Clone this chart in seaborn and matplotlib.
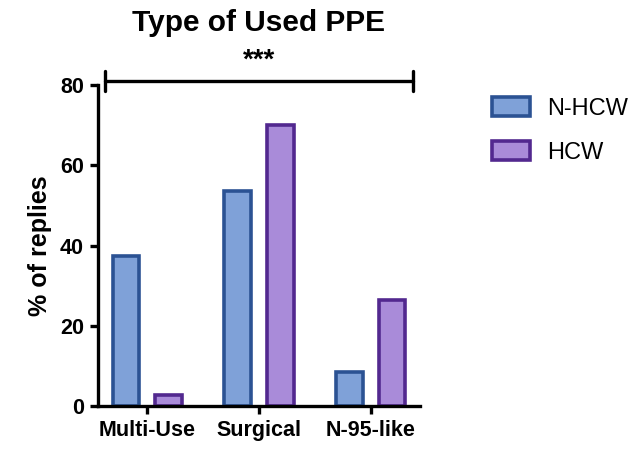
import pandas as pd
import seaborn as sns
from matplotlib import pyplot as plt

# values (% of replies)
categories = ["Multi-Use", "Surgical", "N-95-like"]
groups = ["N-HCW", "HCW"]
nhcw_values = [37.4, 53.6, 8.4]
hcw_values = [2.7, 70.0, 26.3]

face_colors = {"N-HCW": "#7fa1d8", "HCW": "#a98bd9"}
edge_colors = {"N-HCW": "#2b5293", "HCW": "#52288f"}


def makeplot():
    df = pd.DataFrame({
        "type": categories * 2,
        "group": ["N-HCW"] * 3 + ["HCW"] * 3,
        "value": nhcw_values + hcw_values,
    })

    sns.set_style("ticks")
    plt.rcParams["font.family"] = ["Liberation Sans", "DejaVu Sans"]
    plt.rcParams["text.color"] = "black"
    plt.rcParams["axes.labelcolor"] = "black"

    fig = plt.figure(figsize=(6.38, 4.51), dpi=100)
    ax = fig.add_axes([0.1536, 0.0998, 0.5047, 0.7117])

    sns.barplot(data=df, x="type", y="value", hue="group", order=categories,
                hue_order=groups, palette=face_colors, saturation=1,
                width=0.76, gap=0.37, linewidth=2.6, legend=False, ax=ax)
    for cont, g in zip(ax.containers, groups):
        for bar in cont:
            bar.set_edgecolor(edge_colors[g])
            bar.set_linewidth(2.6)

    ax.set_xlim(-0.44, 2.44)
    ax.set_ylim(0, 80)
    ax.set_yticks([0, 20, 40, 60, 80])
    sns.despine(ax=ax)
    for side in ["left", "bottom"]:
        ax.spines[side].set_linewidth(2.4)
        ax.spines[side].set_color("black")
    ax.tick_params(width=2.4, length=6, colors="black", labelsize=15.5, pad=4)
    for lab in ax.get_xticklabels() + ax.get_yticklabels():
        lab.set_fontweight("bold")
    ax.set_xlabel("")
    ax.set_ylabel("% of replies", fontsize=18, fontweight="bold", labelpad=6)
    ax.set_title("Type of Used PPE", fontsize=21.5, fontweight="bold", pad=39)

    # significance bracket
    ax.plot([-0.375, 2.375], [81, 81], color="black", lw=2.4, clip_on=False)
    for xx in [-0.375, 2.375]:
        ax.plot([xx, xx], [78.5, 83.5], color="black", lw=2.4, clip_on=False,
                solid_capstyle="round")
    ax.text(1, 86.0, "***", ha="center", va="center", fontsize=20,
            fontweight="bold")

    ax.legend(ax.containers, groups, loc="upper left",
              bbox_to_anchor=(0.771, 0.785), bbox_transform=fig.transFigure,
              borderaxespad=0, borderpad=0,
              frameon=False, fontsize=17, handlelength=1.6, handleheight=0.85,
              labelspacing=0.92, handletextpad=0.76)

    plt.savefig("out.png", dpi=100)


def main():
    makeplot()


if __name__ == "__main__":
    main()
